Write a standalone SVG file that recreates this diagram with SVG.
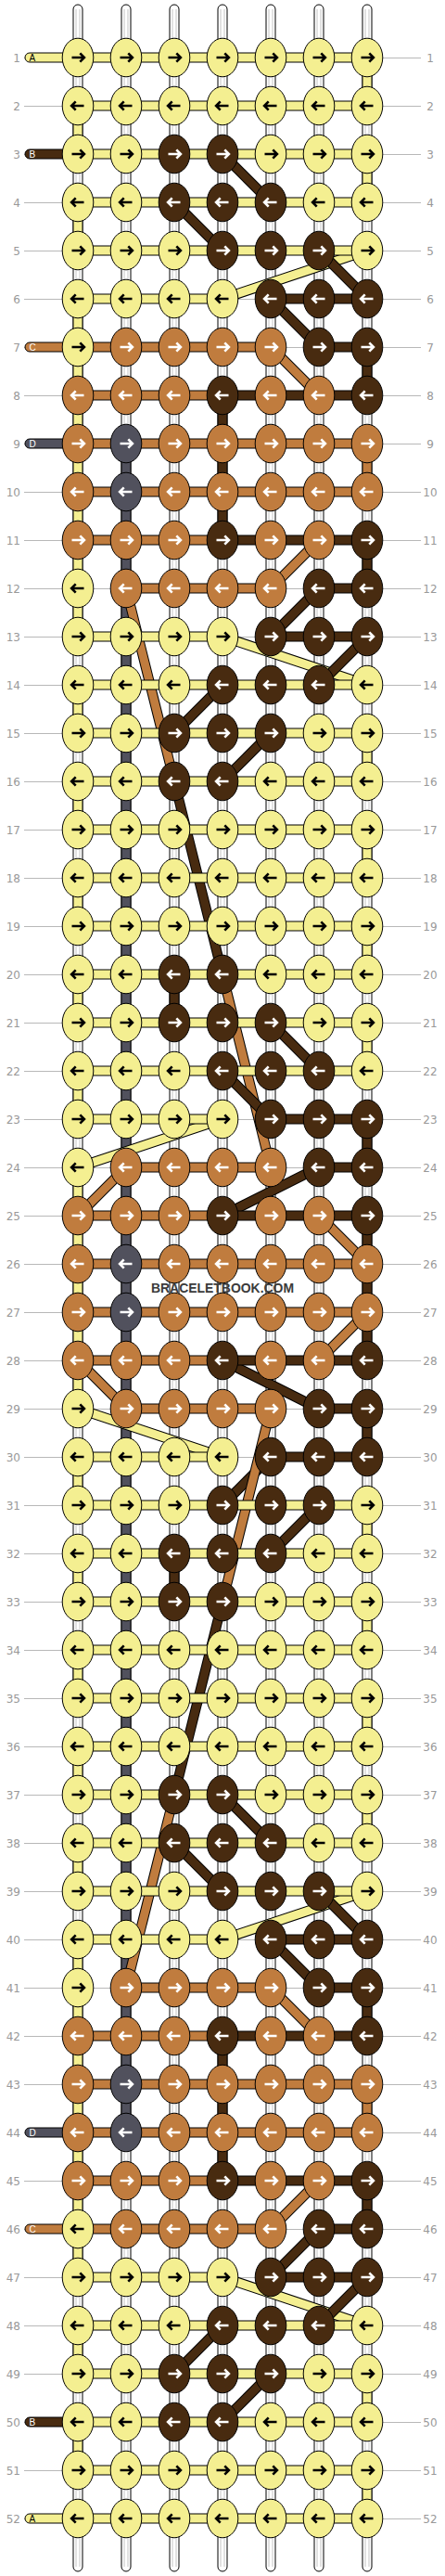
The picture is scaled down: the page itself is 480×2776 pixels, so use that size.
<svg xmlns="http://www.w3.org/2000/svg" xmlns:xlink="http://www.w3.org/1999/xlink" width="480" height="2776" viewBox="0 0 480 2776">
<style>
.y{fill:#F4EF91}.b{fill:#482B10}.c{fill:#C07C3E}.d{fill:#51515D}
.s{stroke:#000;stroke-width:1}
.w{fill:#fff;stroke:#000;stroke-width:1}
.wi{fill:none;stroke:#c4c4c4;stroke-width:1}
.o{stroke:#000;stroke-width:11;fill:none}
.ly{stroke:#F4EF91;stroke-width:9;fill:none}.lb{stroke:#482B10;stroke-width:9;fill:none}.lc{stroke:#C07C3E;stroke-width:9;fill:none}
.gl{stroke:#b8b8b8;stroke-width:1;fill:none}
.nl{font-family:"DejaVu Sans",sans-serif;font-size:12px;fill:#999;text-anchor:end}
.nr{font-family:"DejaVu Sans",sans-serif;font-size:12px;fill:#999;text-anchor:middle}
.t{font-family:"Liberation Sans",Arial,sans-serif;font-size:10px}
</style>
<defs>
<path id="aR" d="M-6.5 0H6.3M2.3-4.6L6.9 0L2.3 4.6" fill="none" stroke-width="2.6"/>
<path id="aL" d="M6.5 0H-6.3M-2.3-4.6L-6.9 0L-2.3 4.6" fill="none" stroke-width="2.6"/>
<g id="YR"><ellipse rx="16.8" ry="20.8" class="y s"/><use href="#aR" stroke="#000"/></g>
<g id="YL"><ellipse rx="16.8" ry="20.8" class="y s"/><use href="#aL" stroke="#000"/></g>
<g id="BR"><ellipse rx="16.8" ry="20.8" class="b s"/><use href="#aR" stroke="#fff"/></g>
<g id="BL"><ellipse rx="16.8" ry="20.8" class="b s"/><use href="#aL" stroke="#fff"/></g>
<g id="CR"><ellipse rx="16.8" ry="20.8" class="c s"/><use href="#aR" stroke="#fff"/></g>
<g id="CL"><ellipse rx="16.8" ry="20.8" class="c s"/><use href="#aL" stroke="#fff"/></g>
<g id="DR"><ellipse rx="16.8" ry="20.8" class="d s"/><use href="#aR" stroke="#fff"/></g>
<g id="DL"><ellipse rx="16.8" ry="20.8" class="d s"/><use href="#aL" stroke="#fff"/></g>
</defs>
<rect width="480" height="2776" fill="#fff"/>
<g id="connectors">
<path class="gl" d="M26 62.5H454M26 114.5H454M26 166.5H454M26 218.5H454M26 270.5H454M26 322.5H454M26 374.5H454M26 426.5H454M26 478.5H454M26 530.5H454M26 582.5H454M26 634.5H454M26 686.5H454M26 738.5H454M26 790.5H454M26 842.5H454M26 894.5H454M26 946.5H454M26 998.5H454M26 1050.5H454M26 1102.5H454M26 1154.5H454M26 1206.5H454M26 1258.5H454M26 1310.5H454M26 1362.5H454M26 1414.5H454M26 1466.5H454M26 1518.5H454M26 1570.5H454M26 1622.5H454M26 1674.5H454M26 1726.5H454M26 1778.5H454M26 1830.5H454M26 1882.5H454M26 1934.5H454M26 1986.5H454M26 2038.5H454M26 2090.5H454M26 2142.5H454M26 2194.5H454M26 2246.5H454M26 2298.5H454M26 2350.5H454M26 2402.5H454M26 2454.5H454M26 2506.5H454M26 2558.5H454M26 2610.5H454M26 2662.5H454M26 2714.5H454"/>
<g id="warps">
<rect class="w" x="79" y="5" width="10" height="2766" rx="5"/>
<rect class="w" x="131" y="5" width="10" height="2766" rx="5"/>
<rect class="w" x="183" y="5" width="10" height="2766" rx="5"/>
<rect class="w" x="235" y="5" width="10" height="2766" rx="5"/>
<rect class="w" x="287" y="5" width="10" height="2766" rx="5"/>
<rect class="w" x="339" y="5" width="10" height="2766" rx="5"/>
<rect class="w" x="391" y="5" width="10" height="2766" rx="5"/>
<path class="wi" d="M82 10V2766M86 10V2766M134 10V2766M138 10V2766M186 10V2766M190 10V2766M238 10V2766M242 10V2766M290 10V2766M294 10V2766M342 10V2766M346 10V2766M394 10V2766M398 10V2766"/>
</g>
<g id="verticals">
<rect class="y s" x="79" y="114" width="10" height="52"/>
<rect class="y s" x="79" y="218" width="10" height="52"/>
<rect class="y s" x="79" y="322" width="10" height="364"/>
<rect class="y s" x="79" y="738" width="10" height="52"/>
<rect class="y s" x="79" y="842" width="10" height="52"/>
<rect class="y s" x="79" y="946" width="10" height="52"/>
<rect class="y s" x="79" y="1050" width="10" height="52"/>
<rect class="y s" x="79" y="1154" width="10" height="52"/>
<rect class="y s" x="79" y="1258" width="10" height="260"/>
<rect class="y s" x="79" y="1570" width="10" height="52"/>
<rect class="y s" x="79" y="1674" width="10" height="52"/>
<rect class="y s" x="79" y="1778" width="10" height="52"/>
<rect class="y s" x="79" y="1882" width="10" height="52"/>
<rect class="y s" x="79" y="1986" width="10" height="52"/>
<rect class="y s" x="79" y="2090" width="10" height="364"/>
<rect class="y s" x="79" y="2506" width="10" height="52"/>
<rect class="y s" x="79" y="2610" width="10" height="52"/>
<rect class="d s" x="131" y="478" width="10" height="1820"/>
<rect class="b s" x="183" y="1050" width="10" height="52"/>
<rect class="b s" x="183" y="1674" width="10" height="52"/>
<rect class="b s" x="235" y="426" width="10" height="156"/>
<rect class="b s" x="235" y="2194" width="10" height="156"/>
<rect class="y s" x="391" y="62" width="10" height="52"/>
<rect class="y s" x="391" y="166" width="10" height="52"/>
<rect class="y s" x="391" y="790" width="10" height="52"/>
<rect class="y s" x="391" y="894" width="10" height="52"/>
<rect class="y s" x="391" y="998" width="10" height="52"/>
<rect class="y s" x="391" y="1102" width="10" height="52"/>
<rect class="y s" x="391" y="1622" width="10" height="52"/>
<rect class="y s" x="391" y="1726" width="10" height="52"/>
<rect class="y s" x="391" y="1830" width="10" height="52"/>
<rect class="y s" x="391" y="1934" width="10" height="52"/>
<rect class="y s" x="391" y="2558" width="10" height="52"/>
<rect class="y s" x="391" y="2662" width="10" height="52"/>
<rect class="b s" x="391" y="374" width="10" height="52"/>
<rect class="b s" x="391" y="582" width="10" height="52"/>
<rect class="b s" x="391" y="1206" width="10" height="52"/>
<rect class="b s" x="391" y="1310" width="10" height="156"/>
<rect class="b s" x="391" y="1518" width="10" height="52"/>
<rect class="b s" x="391" y="2142" width="10" height="52"/>
<rect class="b s" x="391" y="2350" width="10" height="52"/>
<rect class="c s" x="391" y="478" width="10" height="52"/>
<rect class="c s" x="391" y="2246" width="10" height="52"/>
</g>
<g id="diagonals">
<path class="o" d="M240 166L292 218"/><path class="lb" d="M240 166L292 218"/>
<path class="o" d="M188 218L240 270"/><path class="lb" d="M188 218L240 270"/>
<path class="o" d="M396 270L240 322"/><path class="ly" d="M396 270L240 322"/>
<path class="o" d="M344 270L396 322"/><path class="lb" d="M344 270L396 322"/>
<path class="o" d="M292 322L344 374"/><path class="lb" d="M292 322L344 374"/>
<path class="o" d="M292 374L344 426"/><path class="lc" d="M292 374L344 426"/>
<path class="o" d="M344 582L292 634"/><path class="lc" d="M344 582L292 634"/>
<path class="o" d="M344 634L292 686"/><path class="lb" d="M344 634L292 686"/>
<path class="o" d="M136 634L188 842"/><path class="lc" d="M136 634L188 842"/>
<path class="o" d="M240 686L396 738"/><path class="ly" d="M240 686L396 738"/>
<path class="o" d="M396 686L344 738"/><path class="lb" d="M396 686L344 738"/>
<path class="o" d="M240 738L188 790"/><path class="lb" d="M240 738L188 790"/>
<path class="o" d="M292 790L240 842"/><path class="lb" d="M292 790L240 842"/>
<path class="o" d="M188 842L240 1050"/><path class="lb" d="M188 842L240 1050"/>
<path class="o" d="M240 1050L292 1258"/><path class="lc" d="M240 1050L292 1258"/>
<path class="o" d="M292 1102L344 1154"/><path class="lb" d="M292 1102L344 1154"/>
<path class="o" d="M240 1154L292 1206"/><path class="lb" d="M240 1154L292 1206"/>
<path class="o" d="M240 1206L84 1258"/><path class="ly" d="M240 1206L84 1258"/>
<path class="o" d="M136 1258L84 1310"/><path class="lc" d="M136 1258L84 1310"/>
<path class="o" d="M344 1258L240 1310"/><path class="lb" d="M344 1258L240 1310"/>
<path class="o" d="M344 1310L396 1362"/><path class="lc" d="M344 1310L396 1362"/>
<path class="o" d="M344 1466L396 1414"/><path class="lc" d="M344 1466L396 1414"/>
<path class="o" d="M136 1518L84 1466"/><path class="lc" d="M136 1518L84 1466"/>
<path class="o" d="M344 1518L240 1466"/><path class="lb" d="M344 1518L240 1466"/>
<path class="o" d="M240 1570L84 1518"/><path class="ly" d="M240 1570L84 1518"/>
<path class="o" d="M240 1622L292 1570"/><path class="lb" d="M240 1622L292 1570"/>
<path class="o" d="M292 1674L344 1622"/><path class="lb" d="M292 1674L344 1622"/>
<path class="o" d="M240 1726L292 1518"/><path class="lc" d="M240 1726L292 1518"/>
<path class="o" d="M188 1934L240 1726"/><path class="lb" d="M188 1934L240 1726"/>
<path class="o" d="M292 1986L240 1934"/><path class="lb" d="M292 1986L240 1934"/>
<path class="o" d="M240 2038L188 1986"/><path class="lb" d="M240 2038L188 1986"/>
<path class="o" d="M240 2090L396 2038"/><path class="ly" d="M240 2090L396 2038"/>
<path class="o" d="M396 2090L344 2038"/><path class="lb" d="M396 2090L344 2038"/>
<path class="o" d="M136 2142L188 1934"/><path class="lc" d="M136 2142L188 1934"/>
<path class="o" d="M344 2142L292 2090"/><path class="lb" d="M344 2142L292 2090"/>
<path class="o" d="M344 2194L292 2142"/><path class="lc" d="M344 2194L292 2142"/>
<path class="o" d="M292 2402L344 2350"/><path class="lc" d="M292 2402L344 2350"/>
<path class="o" d="M292 2454L344 2402"/><path class="lb" d="M292 2454L344 2402"/>
<path class="o" d="M396 2506L240 2454"/><path class="ly" d="M396 2506L240 2454"/>
<path class="o" d="M344 2506L396 2454"/><path class="lb" d="M344 2506L396 2454"/>
<path class="o" d="M188 2558L240 2506"/><path class="lb" d="M188 2558L240 2506"/>
<path class="o" d="M240 2610L292 2558"/><path class="lb" d="M240 2610L292 2558"/>
</g>
<g id="horizontals">
<rect class="y s" x="84" y="57" width="312" height="10"/>
<rect class="y s" x="84" y="109" width="312" height="10"/>
<rect class="y s" x="84" y="161" width="312" height="10"/>
<rect class="y s" x="84" y="213" width="312" height="10"/>
<rect class="y s" x="84" y="265" width="312" height="10"/>
<rect class="y s" x="84" y="317" width="156" height="10"/><rect class="b s" x="292" y="317" width="104" height="10"/>
<rect class="c s" x="84" y="369" width="208" height="10"/><rect class="b s" x="344" y="369" width="52" height="10"/>
<rect class="c s" x="84" y="421" width="156" height="10"/><rect class="b s" x="240" y="421" width="156" height="10"/>
<rect class="c s" x="84" y="473" width="312" height="10"/>
<rect class="c s" x="84" y="525" width="312" height="10"/>
<rect class="c s" x="84" y="577" width="156" height="10"/><rect class="b s" x="240" y="577" width="156" height="10"/>
<rect class="c s" x="136" y="629" width="156" height="10"/><rect class="b s" x="344" y="629" width="52" height="10"/>
<rect class="y s" x="84" y="681" width="156" height="10"/><rect class="b s" x="292" y="681" width="104" height="10"/>
<rect class="y s" x="84" y="733" width="312" height="10"/>
<rect class="y s" x="84" y="785" width="312" height="10"/>
<rect class="y s" x="84" y="837" width="312" height="10"/>
<rect class="y s" x="84" y="889" width="312" height="10"/>
<rect class="y s" x="84" y="941" width="312" height="10"/>
<rect class="y s" x="84" y="993" width="312" height="10"/>
<rect class="y s" x="84" y="1045" width="312" height="10"/>
<rect class="y s" x="84" y="1097" width="312" height="10"/>
<rect class="y s" x="84" y="1149" width="312" height="10"/>
<rect class="y s" x="84" y="1201" width="156" height="10"/><rect class="b s" x="292" y="1201" width="104" height="10"/>
<rect class="c s" x="136" y="1253" width="156" height="10"/><rect class="b s" x="344" y="1253" width="52" height="10"/>
<rect class="c s" x="84" y="1305" width="156" height="10"/><rect class="b s" x="240" y="1305" width="156" height="10"/>
<rect class="c s" x="84" y="1357" width="312" height="10"/>
<rect class="c s" x="84" y="1409" width="312" height="10"/>
<rect class="c s" x="84" y="1461" width="156" height="10"/><rect class="b s" x="240" y="1461" width="156" height="10"/>
<rect class="c s" x="136" y="1513" width="156" height="10"/><rect class="b s" x="344" y="1513" width="52" height="10"/>
<rect class="y s" x="84" y="1565" width="156" height="10"/><rect class="b s" x="292" y="1565" width="104" height="10"/>
<rect class="y s" x="84" y="1617" width="312" height="10"/>
<rect class="y s" x="84" y="1669" width="312" height="10"/>
<rect class="y s" x="84" y="1721" width="312" height="10"/>
<rect class="y s" x="84" y="1773" width="312" height="10"/>
<rect class="y s" x="84" y="1825" width="312" height="10"/>
<rect class="y s" x="84" y="1877" width="312" height="10"/>
<rect class="y s" x="84" y="1929" width="312" height="10"/>
<rect class="y s" x="84" y="1981" width="312" height="10"/>
<rect class="y s" x="84" y="2033" width="312" height="10"/>
<rect class="y s" x="84" y="2085" width="156" height="10"/><rect class="b s" x="292" y="2085" width="104" height="10"/>
<rect class="c s" x="136" y="2137" width="156" height="10"/><rect class="b s" x="344" y="2137" width="52" height="10"/>
<rect class="c s" x="84" y="2189" width="156" height="10"/><rect class="b s" x="240" y="2189" width="156" height="10"/>
<rect class="c s" x="84" y="2241" width="312" height="10"/>
<rect class="c s" x="84" y="2293" width="312" height="10"/>
<rect class="c s" x="84" y="2345" width="156" height="10"/><rect class="b s" x="240" y="2345" width="156" height="10"/>
<rect class="c s" x="84" y="2397" width="208" height="10"/><rect class="b s" x="344" y="2397" width="52" height="10"/>
<rect class="y s" x="84" y="2449" width="156" height="10"/><rect class="b s" x="292" y="2449" width="104" height="10"/>
<rect class="y s" x="84" y="2501" width="312" height="10"/>
<rect class="y s" x="84" y="2553" width="312" height="10"/>
<rect class="y s" x="84" y="2605" width="312" height="10"/>
<rect class="y s" x="84" y="2657" width="312" height="10"/>
<rect class="y s" x="84" y="2709" width="312" height="10"/>
</g>
<g id="tails">
<rect class="y s" x="27" y="57" width="62" height="10" rx="5"/><text class="t" x="31.5" y="66">A</text>
<rect class="b s" x="27" y="161" width="62" height="10" rx="5"/><text class="t" x="31.5" y="170" fill="#fff">B</text>
<rect class="c s" x="27" y="369" width="62" height="10" rx="5"/><text class="t" x="31.5" y="378" fill="#fff">C</text>
<rect class="d s" x="27" y="473" width="62" height="10" rx="5"/><text class="t" x="31.5" y="482" fill="#fff">D</text>
<rect class="d s" x="27" y="2293" width="62" height="10" rx="5"/><text class="t" x="31.5" y="2302" fill="#fff">D</text>
<rect class="c s" x="27" y="2397" width="62" height="10" rx="5"/><text class="t" x="31.5" y="2406" fill="#fff">C</text>
<rect class="b s" x="27" y="2605" width="62" height="10" rx="5"/><text class="t" x="31.5" y="2614" fill="#fff">B</text>
<rect class="y s" x="27" y="2709" width="62" height="10" rx="5"/><text class="t" x="31.5" y="2718">A</text>
</g>
</g>
<g id="knots">
<g id="k1_1"><use href="#YR" x="84" y="62"/></g><g id="k1_2"><use href="#YR" x="136" y="62"/></g><g id="k1_3"><use href="#YR" x="188" y="62"/></g><g id="k1_4"><use href="#YR" x="240" y="62"/></g><g id="k1_5"><use href="#YR" x="292" y="62"/></g><g id="k1_6"><use href="#YR" x="344" y="62"/></g><g id="k1_7"><use href="#YR" x="396" y="62"/></g>
<g id="k2_1"><use href="#YL" x="84" y="114"/></g><g id="k2_2"><use href="#YL" x="136" y="114"/></g><g id="k2_3"><use href="#YL" x="188" y="114"/></g><g id="k2_4"><use href="#YL" x="240" y="114"/></g><g id="k2_5"><use href="#YL" x="292" y="114"/></g><g id="k2_6"><use href="#YL" x="344" y="114"/></g><g id="k2_7"><use href="#YL" x="396" y="114"/></g>
<g id="k3_1"><use href="#YR" x="84" y="166"/></g><g id="k3_2"><use href="#YR" x="136" y="166"/></g><g id="k3_3"><use href="#BR" x="188" y="166"/></g><g id="k3_4"><use href="#BR" x="240" y="166"/></g><g id="k3_5"><use href="#YR" x="292" y="166"/></g><g id="k3_6"><use href="#YR" x="344" y="166"/></g><g id="k3_7"><use href="#YR" x="396" y="166"/></g>
<g id="k4_1"><use href="#YL" x="84" y="218"/></g><g id="k4_2"><use href="#YL" x="136" y="218"/></g><g id="k4_3"><use href="#BL" x="188" y="218"/></g><g id="k4_4"><use href="#BL" x="240" y="218"/></g><g id="k4_5"><use href="#BL" x="292" y="218"/></g><g id="k4_6"><use href="#YL" x="344" y="218"/></g><g id="k4_7"><use href="#YL" x="396" y="218"/></g>
<g id="k5_1"><use href="#YR" x="84" y="270"/></g><g id="k5_2"><use href="#YR" x="136" y="270"/></g><g id="k5_3"><use href="#YR" x="188" y="270"/></g><g id="k5_4"><use href="#BR" x="240" y="270"/></g><g id="k5_5"><use href="#BR" x="292" y="270"/></g><g id="k5_6"><use href="#BR" x="344" y="270"/></g><g id="k5_7"><use href="#YR" x="396" y="270"/></g>
<g id="k6_1"><use href="#YL" x="84" y="322"/></g><g id="k6_2"><use href="#YL" x="136" y="322"/></g><g id="k6_3"><use href="#YL" x="188" y="322"/></g><g id="k6_4"><use href="#YL" x="240" y="322"/></g><g id="k6_5"><use href="#BL" x="292" y="322"/></g><g id="k6_6"><use href="#BL" x="344" y="322"/></g><g id="k6_7"><use href="#BL" x="396" y="322"/></g>
<g id="k7_1"><use href="#YR" x="84" y="374"/></g><g id="k7_2"><use href="#CR" x="136" y="374"/></g><g id="k7_3"><use href="#CR" x="188" y="374"/></g><g id="k7_4"><use href="#CR" x="240" y="374"/></g><g id="k7_5"><use href="#CR" x="292" y="374"/></g><g id="k7_6"><use href="#BR" x="344" y="374"/></g><g id="k7_7"><use href="#BR" x="396" y="374"/></g>
<g id="k8_1"><use href="#CL" x="84" y="426"/></g><g id="k8_2"><use href="#CL" x="136" y="426"/></g><g id="k8_3"><use href="#CL" x="188" y="426"/></g><g id="k8_4"><use href="#BL" x="240" y="426"/></g><g id="k8_5"><use href="#CL" x="292" y="426"/></g><g id="k8_6"><use href="#CL" x="344" y="426"/></g><g id="k8_7"><use href="#BL" x="396" y="426"/></g>
<g id="k9_1"><use href="#CR" x="84" y="478"/></g><g id="k9_2"><use href="#DR" x="136" y="478"/></g><g id="k9_3"><use href="#CR" x="188" y="478"/></g><g id="k9_4"><use href="#CR" x="240" y="478"/></g><g id="k9_5"><use href="#CR" x="292" y="478"/></g><g id="k9_6"><use href="#CR" x="344" y="478"/></g><g id="k9_7"><use href="#CR" x="396" y="478"/></g>
<g id="k10_1"><use href="#CL" x="84" y="530"/></g><g id="k10_2"><use href="#DL" x="136" y="530"/></g><g id="k10_3"><use href="#CL" x="188" y="530"/></g><g id="k10_4"><use href="#CL" x="240" y="530"/></g><g id="k10_5"><use href="#CL" x="292" y="530"/></g><g id="k10_6"><use href="#CL" x="344" y="530"/></g><g id="k10_7"><use href="#CL" x="396" y="530"/></g>
<g id="k11_1"><use href="#CR" x="84" y="582"/></g><g id="k11_2"><use href="#CR" x="136" y="582"/></g><g id="k11_3"><use href="#CR" x="188" y="582"/></g><g id="k11_4"><use href="#BR" x="240" y="582"/></g><g id="k11_5"><use href="#CR" x="292" y="582"/></g><g id="k11_6"><use href="#CR" x="344" y="582"/></g><g id="k11_7"><use href="#BR" x="396" y="582"/></g>
<g id="k12_1"><use href="#YL" x="84" y="634"/></g><g id="k12_2"><use href="#CL" x="136" y="634"/></g><g id="k12_3"><use href="#CL" x="188" y="634"/></g><g id="k12_4"><use href="#CL" x="240" y="634"/></g><g id="k12_5"><use href="#CL" x="292" y="634"/></g><g id="k12_6"><use href="#BL" x="344" y="634"/></g><g id="k12_7"><use href="#BL" x="396" y="634"/></g>
<g id="k13_1"><use href="#YR" x="84" y="686"/></g><g id="k13_2"><use href="#YR" x="136" y="686"/></g><g id="k13_3"><use href="#YR" x="188" y="686"/></g><g id="k13_4"><use href="#YR" x="240" y="686"/></g><g id="k13_5"><use href="#BR" x="292" y="686"/></g><g id="k13_6"><use href="#BR" x="344" y="686"/></g><g id="k13_7"><use href="#BR" x="396" y="686"/></g>
<g id="k14_1"><use href="#YL" x="84" y="738"/></g><g id="k14_2"><use href="#YL" x="136" y="738"/></g><g id="k14_3"><use href="#YL" x="188" y="738"/></g><g id="k14_4"><use href="#BL" x="240" y="738"/></g><g id="k14_5"><use href="#BL" x="292" y="738"/></g><g id="k14_6"><use href="#BL" x="344" y="738"/></g><g id="k14_7"><use href="#YL" x="396" y="738"/></g>
<g id="k15_1"><use href="#YR" x="84" y="790"/></g><g id="k15_2"><use href="#YR" x="136" y="790"/></g><g id="k15_3"><use href="#BR" x="188" y="790"/></g><g id="k15_4"><use href="#BR" x="240" y="790"/></g><g id="k15_5"><use href="#BR" x="292" y="790"/></g><g id="k15_6"><use href="#YR" x="344" y="790"/></g><g id="k15_7"><use href="#YR" x="396" y="790"/></g>
<g id="k16_1"><use href="#YL" x="84" y="842"/></g><g id="k16_2"><use href="#YL" x="136" y="842"/></g><g id="k16_3"><use href="#BL" x="188" y="842"/></g><g id="k16_4"><use href="#BL" x="240" y="842"/></g><g id="k16_5"><use href="#YL" x="292" y="842"/></g><g id="k16_6"><use href="#YL" x="344" y="842"/></g><g id="k16_7"><use href="#YL" x="396" y="842"/></g>
<g id="k17_1"><use href="#YR" x="84" y="894"/></g><g id="k17_2"><use href="#YR" x="136" y="894"/></g><g id="k17_3"><use href="#YR" x="188" y="894"/></g><g id="k17_4"><use href="#YR" x="240" y="894"/></g><g id="k17_5"><use href="#YR" x="292" y="894"/></g><g id="k17_6"><use href="#YR" x="344" y="894"/></g><g id="k17_7"><use href="#YR" x="396" y="894"/></g>
<g id="k18_1"><use href="#YL" x="84" y="946"/></g><g id="k18_2"><use href="#YL" x="136" y="946"/></g><g id="k18_3"><use href="#YL" x="188" y="946"/></g><g id="k18_4"><use href="#YL" x="240" y="946"/></g><g id="k18_5"><use href="#YL" x="292" y="946"/></g><g id="k18_6"><use href="#YL" x="344" y="946"/></g><g id="k18_7"><use href="#YL" x="396" y="946"/></g>
<g id="k19_1"><use href="#YR" x="84" y="998"/></g><g id="k19_2"><use href="#YR" x="136" y="998"/></g><g id="k19_3"><use href="#YR" x="188" y="998"/></g><g id="k19_4"><use href="#YR" x="240" y="998"/></g><g id="k19_5"><use href="#YR" x="292" y="998"/></g><g id="k19_6"><use href="#YR" x="344" y="998"/></g><g id="k19_7"><use href="#YR" x="396" y="998"/></g>
<g id="k20_1"><use href="#YL" x="84" y="1050"/></g><g id="k20_2"><use href="#YL" x="136" y="1050"/></g><g id="k20_3"><use href="#BL" x="188" y="1050"/></g><g id="k20_4"><use href="#BL" x="240" y="1050"/></g><g id="k20_5"><use href="#YL" x="292" y="1050"/></g><g id="k20_6"><use href="#YL" x="344" y="1050"/></g><g id="k20_7"><use href="#YL" x="396" y="1050"/></g>
<g id="k21_1"><use href="#YR" x="84" y="1102"/></g><g id="k21_2"><use href="#YR" x="136" y="1102"/></g><g id="k21_3"><use href="#BR" x="188" y="1102"/></g><g id="k21_4"><use href="#BR" x="240" y="1102"/></g><g id="k21_5"><use href="#BR" x="292" y="1102"/></g><g id="k21_6"><use href="#YR" x="344" y="1102"/></g><g id="k21_7"><use href="#YR" x="396" y="1102"/></g>
<g id="k22_1"><use href="#YL" x="84" y="1154"/></g><g id="k22_2"><use href="#YL" x="136" y="1154"/></g><g id="k22_3"><use href="#YL" x="188" y="1154"/></g><g id="k22_4"><use href="#BL" x="240" y="1154"/></g><g id="k22_5"><use href="#BL" x="292" y="1154"/></g><g id="k22_6"><use href="#BL" x="344" y="1154"/></g><g id="k22_7"><use href="#YL" x="396" y="1154"/></g>
<g id="k23_1"><use href="#YR" x="84" y="1206"/></g><g id="k23_2"><use href="#YR" x="136" y="1206"/></g><g id="k23_3"><use href="#YR" x="188" y="1206"/></g><g id="k23_4"><use href="#YR" x="240" y="1206"/></g><g id="k23_5"><use href="#BR" x="292" y="1206"/></g><g id="k23_6"><use href="#BR" x="344" y="1206"/></g><g id="k23_7"><use href="#BR" x="396" y="1206"/></g>
<g id="k24_1"><use href="#YL" x="84" y="1258"/></g><g id="k24_2"><use href="#CL" x="136" y="1258"/></g><g id="k24_3"><use href="#CL" x="188" y="1258"/></g><g id="k24_4"><use href="#CL" x="240" y="1258"/></g><g id="k24_5"><use href="#CL" x="292" y="1258"/></g><g id="k24_6"><use href="#BL" x="344" y="1258"/></g><g id="k24_7"><use href="#BL" x="396" y="1258"/></g>
<g id="k25_1"><use href="#CR" x="84" y="1310"/></g><g id="k25_2"><use href="#CR" x="136" y="1310"/></g><g id="k25_3"><use href="#CR" x="188" y="1310"/></g><g id="k25_4"><use href="#BR" x="240" y="1310"/></g><g id="k25_5"><use href="#CR" x="292" y="1310"/></g><g id="k25_6"><use href="#CR" x="344" y="1310"/></g><g id="k25_7"><use href="#BR" x="396" y="1310"/></g>
<g id="k26_1"><use href="#CL" x="84" y="1362"/></g><g id="k26_2"><use href="#DL" x="136" y="1362"/></g><g id="k26_3"><use href="#CL" x="188" y="1362"/></g><g id="k26_4"><use href="#CL" x="240" y="1362"/></g><g id="k26_5"><use href="#CL" x="292" y="1362"/></g><g id="k26_6"><use href="#CL" x="344" y="1362"/></g><g id="k26_7"><use href="#CL" x="396" y="1362"/></g>
<g id="k27_1"><use href="#CR" x="84" y="1414"/></g><g id="k27_2"><use href="#DR" x="136" y="1414"/></g><g id="k27_3"><use href="#CR" x="188" y="1414"/></g><g id="k27_4"><use href="#CR" x="240" y="1414"/></g><g id="k27_5"><use href="#CR" x="292" y="1414"/></g><g id="k27_6"><use href="#CR" x="344" y="1414"/></g><g id="k27_7"><use href="#CR" x="396" y="1414"/></g>
<g id="k28_1"><use href="#CL" x="84" y="1466"/></g><g id="k28_2"><use href="#CL" x="136" y="1466"/></g><g id="k28_3"><use href="#CL" x="188" y="1466"/></g><g id="k28_4"><use href="#BL" x="240" y="1466"/></g><g id="k28_5"><use href="#CL" x="292" y="1466"/></g><g id="k28_6"><use href="#CL" x="344" y="1466"/></g><g id="k28_7"><use href="#BL" x="396" y="1466"/></g>
<g id="k29_1"><use href="#YR" x="84" y="1518"/></g><g id="k29_2"><use href="#CR" x="136" y="1518"/></g><g id="k29_3"><use href="#CR" x="188" y="1518"/></g><g id="k29_4"><use href="#CR" x="240" y="1518"/></g><g id="k29_5"><use href="#CR" x="292" y="1518"/></g><g id="k29_6"><use href="#BR" x="344" y="1518"/></g><g id="k29_7"><use href="#BR" x="396" y="1518"/></g>
<g id="k30_1"><use href="#YL" x="84" y="1570"/></g><g id="k30_2"><use href="#YL" x="136" y="1570"/></g><g id="k30_3"><use href="#YL" x="188" y="1570"/></g><g id="k30_4"><use href="#YL" x="240" y="1570"/></g><g id="k30_5"><use href="#BL" x="292" y="1570"/></g><g id="k30_6"><use href="#BL" x="344" y="1570"/></g><g id="k30_7"><use href="#BL" x="396" y="1570"/></g>
<g id="k31_1"><use href="#YR" x="84" y="1622"/></g><g id="k31_2"><use href="#YR" x="136" y="1622"/></g><g id="k31_3"><use href="#YR" x="188" y="1622"/></g><g id="k31_4"><use href="#BR" x="240" y="1622"/></g><g id="k31_5"><use href="#BR" x="292" y="1622"/></g><g id="k31_6"><use href="#BR" x="344" y="1622"/></g><g id="k31_7"><use href="#YR" x="396" y="1622"/></g>
<g id="k32_1"><use href="#YL" x="84" y="1674"/></g><g id="k32_2"><use href="#YL" x="136" y="1674"/></g><g id="k32_3"><use href="#BL" x="188" y="1674"/></g><g id="k32_4"><use href="#BL" x="240" y="1674"/></g><g id="k32_5"><use href="#BL" x="292" y="1674"/></g><g id="k32_6"><use href="#YL" x="344" y="1674"/></g><g id="k32_7"><use href="#YL" x="396" y="1674"/></g>
<g id="k33_1"><use href="#YR" x="84" y="1726"/></g><g id="k33_2"><use href="#YR" x="136" y="1726"/></g><g id="k33_3"><use href="#BR" x="188" y="1726"/></g><g id="k33_4"><use href="#BR" x="240" y="1726"/></g><g id="k33_5"><use href="#YR" x="292" y="1726"/></g><g id="k33_6"><use href="#YR" x="344" y="1726"/></g><g id="k33_7"><use href="#YR" x="396" y="1726"/></g>
<g id="k34_1"><use href="#YL" x="84" y="1778"/></g><g id="k34_2"><use href="#YL" x="136" y="1778"/></g><g id="k34_3"><use href="#YL" x="188" y="1778"/></g><g id="k34_4"><use href="#YL" x="240" y="1778"/></g><g id="k34_5"><use href="#YL" x="292" y="1778"/></g><g id="k34_6"><use href="#YL" x="344" y="1778"/></g><g id="k34_7"><use href="#YL" x="396" y="1778"/></g>
<g id="k35_1"><use href="#YR" x="84" y="1830"/></g><g id="k35_2"><use href="#YR" x="136" y="1830"/></g><g id="k35_3"><use href="#YR" x="188" y="1830"/></g><g id="k35_4"><use href="#YR" x="240" y="1830"/></g><g id="k35_5"><use href="#YR" x="292" y="1830"/></g><g id="k35_6"><use href="#YR" x="344" y="1830"/></g><g id="k35_7"><use href="#YR" x="396" y="1830"/></g>
<g id="k36_1"><use href="#YL" x="84" y="1882"/></g><g id="k36_2"><use href="#YL" x="136" y="1882"/></g><g id="k36_3"><use href="#YL" x="188" y="1882"/></g><g id="k36_4"><use href="#YL" x="240" y="1882"/></g><g id="k36_5"><use href="#YL" x="292" y="1882"/></g><g id="k36_6"><use href="#YL" x="344" y="1882"/></g><g id="k36_7"><use href="#YL" x="396" y="1882"/></g>
<g id="k37_1"><use href="#YR" x="84" y="1934"/></g><g id="k37_2"><use href="#YR" x="136" y="1934"/></g><g id="k37_3"><use href="#BR" x="188" y="1934"/></g><g id="k37_4"><use href="#BR" x="240" y="1934"/></g><g id="k37_5"><use href="#YR" x="292" y="1934"/></g><g id="k37_6"><use href="#YR" x="344" y="1934"/></g><g id="k37_7"><use href="#YR" x="396" y="1934"/></g>
<g id="k38_1"><use href="#YL" x="84" y="1986"/></g><g id="k38_2"><use href="#YL" x="136" y="1986"/></g><g id="k38_3"><use href="#BL" x="188" y="1986"/></g><g id="k38_4"><use href="#BL" x="240" y="1986"/></g><g id="k38_5"><use href="#BL" x="292" y="1986"/></g><g id="k38_6"><use href="#YL" x="344" y="1986"/></g><g id="k38_7"><use href="#YL" x="396" y="1986"/></g>
<g id="k39_1"><use href="#YR" x="84" y="2038"/></g><g id="k39_2"><use href="#YR" x="136" y="2038"/></g><g id="k39_3"><use href="#YR" x="188" y="2038"/></g><g id="k39_4"><use href="#BR" x="240" y="2038"/></g><g id="k39_5"><use href="#BR" x="292" y="2038"/></g><g id="k39_6"><use href="#BR" x="344" y="2038"/></g><g id="k39_7"><use href="#YR" x="396" y="2038"/></g>
<g id="k40_1"><use href="#YL" x="84" y="2090"/></g><g id="k40_2"><use href="#YL" x="136" y="2090"/></g><g id="k40_3"><use href="#YL" x="188" y="2090"/></g><g id="k40_4"><use href="#YL" x="240" y="2090"/></g><g id="k40_5"><use href="#BL" x="292" y="2090"/></g><g id="k40_6"><use href="#BL" x="344" y="2090"/></g><g id="k40_7"><use href="#BL" x="396" y="2090"/></g>
<g id="k41_1"><use href="#YR" x="84" y="2142"/></g><g id="k41_2"><use href="#CR" x="136" y="2142"/></g><g id="k41_3"><use href="#CR" x="188" y="2142"/></g><g id="k41_4"><use href="#CR" x="240" y="2142"/></g><g id="k41_5"><use href="#CR" x="292" y="2142"/></g><g id="k41_6"><use href="#BR" x="344" y="2142"/></g><g id="k41_7"><use href="#BR" x="396" y="2142"/></g>
<g id="k42_1"><use href="#CL" x="84" y="2194"/></g><g id="k42_2"><use href="#CL" x="136" y="2194"/></g><g id="k42_3"><use href="#CL" x="188" y="2194"/></g><g id="k42_4"><use href="#BL" x="240" y="2194"/></g><g id="k42_5"><use href="#CL" x="292" y="2194"/></g><g id="k42_6"><use href="#CL" x="344" y="2194"/></g><g id="k42_7"><use href="#BL" x="396" y="2194"/></g>
<g id="k43_1"><use href="#CR" x="84" y="2246"/></g><g id="k43_2"><use href="#DR" x="136" y="2246"/></g><g id="k43_3"><use href="#CR" x="188" y="2246"/></g><g id="k43_4"><use href="#CR" x="240" y="2246"/></g><g id="k43_5"><use href="#CR" x="292" y="2246"/></g><g id="k43_6"><use href="#CR" x="344" y="2246"/></g><g id="k43_7"><use href="#CR" x="396" y="2246"/></g>
<g id="k44_1"><use href="#CL" x="84" y="2298"/></g><g id="k44_2"><use href="#DL" x="136" y="2298"/></g><g id="k44_3"><use href="#CL" x="188" y="2298"/></g><g id="k44_4"><use href="#CL" x="240" y="2298"/></g><g id="k44_5"><use href="#CL" x="292" y="2298"/></g><g id="k44_6"><use href="#CL" x="344" y="2298"/></g><g id="k44_7"><use href="#CL" x="396" y="2298"/></g>
<g id="k45_1"><use href="#CR" x="84" y="2350"/></g><g id="k45_2"><use href="#CR" x="136" y="2350"/></g><g id="k45_3"><use href="#CR" x="188" y="2350"/></g><g id="k45_4"><use href="#BR" x="240" y="2350"/></g><g id="k45_5"><use href="#CR" x="292" y="2350"/></g><g id="k45_6"><use href="#CR" x="344" y="2350"/></g><g id="k45_7"><use href="#BR" x="396" y="2350"/></g>
<g id="k46_1"><use href="#YL" x="84" y="2402"/></g><g id="k46_2"><use href="#CL" x="136" y="2402"/></g><g id="k46_3"><use href="#CL" x="188" y="2402"/></g><g id="k46_4"><use href="#CL" x="240" y="2402"/></g><g id="k46_5"><use href="#CL" x="292" y="2402"/></g><g id="k46_6"><use href="#BL" x="344" y="2402"/></g><g id="k46_7"><use href="#BL" x="396" y="2402"/></g>
<g id="k47_1"><use href="#YR" x="84" y="2454"/></g><g id="k47_2"><use href="#YR" x="136" y="2454"/></g><g id="k47_3"><use href="#YR" x="188" y="2454"/></g><g id="k47_4"><use href="#YR" x="240" y="2454"/></g><g id="k47_5"><use href="#BR" x="292" y="2454"/></g><g id="k47_6"><use href="#BR" x="344" y="2454"/></g><g id="k47_7"><use href="#BR" x="396" y="2454"/></g>
<g id="k48_1"><use href="#YL" x="84" y="2506"/></g><g id="k48_2"><use href="#YL" x="136" y="2506"/></g><g id="k48_3"><use href="#YL" x="188" y="2506"/></g><g id="k48_4"><use href="#BL" x="240" y="2506"/></g><g id="k48_5"><use href="#BL" x="292" y="2506"/></g><g id="k48_6"><use href="#BL" x="344" y="2506"/></g><g id="k48_7"><use href="#YL" x="396" y="2506"/></g>
<g id="k49_1"><use href="#YR" x="84" y="2558"/></g><g id="k49_2"><use href="#YR" x="136" y="2558"/></g><g id="k49_3"><use href="#BR" x="188" y="2558"/></g><g id="k49_4"><use href="#BR" x="240" y="2558"/></g><g id="k49_5"><use href="#BR" x="292" y="2558"/></g><g id="k49_6"><use href="#YR" x="344" y="2558"/></g><g id="k49_7"><use href="#YR" x="396" y="2558"/></g>
<g id="k50_1"><use href="#YL" x="84" y="2610"/></g><g id="k50_2"><use href="#YL" x="136" y="2610"/></g><g id="k50_3"><use href="#BL" x="188" y="2610"/></g><g id="k50_4"><use href="#BL" x="240" y="2610"/></g><g id="k50_5"><use href="#YL" x="292" y="2610"/></g><g id="k50_6"><use href="#YL" x="344" y="2610"/></g><g id="k50_7"><use href="#YL" x="396" y="2610"/></g>
<g id="k51_1"><use href="#YR" x="84" y="2662"/></g><g id="k51_2"><use href="#YR" x="136" y="2662"/></g><g id="k51_3"><use href="#YR" x="188" y="2662"/></g><g id="k51_4"><use href="#YR" x="240" y="2662"/></g><g id="k51_5"><use href="#YR" x="292" y="2662"/></g><g id="k51_6"><use href="#YR" x="344" y="2662"/></g><g id="k51_7"><use href="#YR" x="396" y="2662"/></g>
<g id="k52_1"><use href="#YL" x="84" y="2714"/></g><g id="k52_2"><use href="#YL" x="136" y="2714"/></g><g id="k52_3"><use href="#YL" x="188" y="2714"/></g><g id="k52_4"><use href="#YL" x="240" y="2714"/></g><g id="k52_5"><use href="#YL" x="292" y="2714"/></g><g id="k52_6"><use href="#YL" x="344" y="2714"/></g><g id="k52_7"><use href="#YL" x="396" y="2714"/></g>
</g>
<g id="labels">
<text class="nl" x="22" y="66.5">1</text><text class="nr" x="464" y="66.5">1</text>
<text class="nl" x="22" y="118.5">2</text><text class="nr" x="464" y="118.5">2</text>
<text class="nl" x="22" y="170.5">3</text><text class="nr" x="464" y="170.5">3</text>
<text class="nl" x="22" y="222.5">4</text><text class="nr" x="464" y="222.5">4</text>
<text class="nl" x="22" y="274.5">5</text><text class="nr" x="464" y="274.5">5</text>
<text class="nl" x="22" y="326.5">6</text><text class="nr" x="464" y="326.5">6</text>
<text class="nl" x="22" y="378.5">7</text><text class="nr" x="464" y="378.5">7</text>
<text class="nl" x="22" y="430.5">8</text><text class="nr" x="464" y="430.5">8</text>
<text class="nl" x="22" y="482.5">9</text><text class="nr" x="464" y="482.5">9</text>
<text class="nl" x="22" y="534.5">10</text><text class="nr" x="464" y="534.5">10</text>
<text class="nl" x="22" y="586.5">11</text><text class="nr" x="464" y="586.5">11</text>
<text class="nl" x="22" y="638.5">12</text><text class="nr" x="464" y="638.5">12</text>
<text class="nl" x="22" y="690.5">13</text><text class="nr" x="464" y="690.5">13</text>
<text class="nl" x="22" y="742.5">14</text><text class="nr" x="464" y="742.5">14</text>
<text class="nl" x="22" y="794.5">15</text><text class="nr" x="464" y="794.5">15</text>
<text class="nl" x="22" y="846.5">16</text><text class="nr" x="464" y="846.5">16</text>
<text class="nl" x="22" y="898.5">17</text><text class="nr" x="464" y="898.5">17</text>
<text class="nl" x="22" y="950.5">18</text><text class="nr" x="464" y="950.5">18</text>
<text class="nl" x="22" y="1002.5">19</text><text class="nr" x="464" y="1002.5">19</text>
<text class="nl" x="22" y="1054.5">20</text><text class="nr" x="464" y="1054.5">20</text>
<text class="nl" x="22" y="1106.5">21</text><text class="nr" x="464" y="1106.5">21</text>
<text class="nl" x="22" y="1158.5">22</text><text class="nr" x="464" y="1158.5">22</text>
<text class="nl" x="22" y="1210.5">23</text><text class="nr" x="464" y="1210.5">23</text>
<text class="nl" x="22" y="1262.5">24</text><text class="nr" x="464" y="1262.5">24</text>
<text class="nl" x="22" y="1314.5">25</text><text class="nr" x="464" y="1314.5">25</text>
<text class="nl" x="22" y="1366.5">26</text><text class="nr" x="464" y="1366.5">26</text>
<text class="nl" x="22" y="1418.5">27</text><text class="nr" x="464" y="1418.5">27</text>
<text class="nl" x="22" y="1470.5">28</text><text class="nr" x="464" y="1470.5">28</text>
<text class="nl" x="22" y="1522.5">29</text><text class="nr" x="464" y="1522.5">29</text>
<text class="nl" x="22" y="1574.5">30</text><text class="nr" x="464" y="1574.5">30</text>
<text class="nl" x="22" y="1626.5">31</text><text class="nr" x="464" y="1626.5">31</text>
<text class="nl" x="22" y="1678.5">32</text><text class="nr" x="464" y="1678.5">32</text>
<text class="nl" x="22" y="1730.5">33</text><text class="nr" x="464" y="1730.5">33</text>
<text class="nl" x="22" y="1782.5">34</text><text class="nr" x="464" y="1782.5">34</text>
<text class="nl" x="22" y="1834.5">35</text><text class="nr" x="464" y="1834.5">35</text>
<text class="nl" x="22" y="1886.5">36</text><text class="nr" x="464" y="1886.5">36</text>
<text class="nl" x="22" y="1938.5">37</text><text class="nr" x="464" y="1938.5">37</text>
<text class="nl" x="22" y="1990.5">38</text><text class="nr" x="464" y="1990.5">38</text>
<text class="nl" x="22" y="2042.5">39</text><text class="nr" x="464" y="2042.5">39</text>
<text class="nl" x="22" y="2094.5">40</text><text class="nr" x="464" y="2094.5">40</text>
<text class="nl" x="22" y="2146.5">41</text><text class="nr" x="464" y="2146.5">41</text>
<text class="nl" x="22" y="2198.5">42</text><text class="nr" x="464" y="2198.5">42</text>
<text class="nl" x="22" y="2250.5">43</text><text class="nr" x="464" y="2250.5">43</text>
<text class="nl" x="22" y="2302.5">44</text><text class="nr" x="464" y="2302.5">44</text>
<text class="nl" x="22" y="2354.5">45</text><text class="nr" x="464" y="2354.5">45</text>
<text class="nl" x="22" y="2406.5">46</text><text class="nr" x="464" y="2406.5">46</text>
<text class="nl" x="22" y="2458.5">47</text><text class="nr" x="464" y="2458.5">47</text>
<text class="nl" x="22" y="2510.5">48</text><text class="nr" x="464" y="2510.5">48</text>
<text class="nl" x="22" y="2562.5">49</text><text class="nr" x="464" y="2562.5">49</text>
<text class="nl" x="22" y="2614.5">50</text><text class="nr" x="464" y="2614.5">50</text>
<text class="nl" x="22" y="2666.5">51</text><text class="nr" x="464" y="2666.5">51</text>
<text class="nl" x="22" y="2718.5">52</text><text class="nr" x="464" y="2718.5">52</text>
</g>
<text x="240" y="1393" font-family="Liberation Sans, Arial, sans-serif" font-weight="bold" font-size="15.5" fill="#3b3b3b" text-anchor="middle" textLength="154" lengthAdjust="spacingAndGlyphs">BRACELETBOOK.COM</text>
</svg>
